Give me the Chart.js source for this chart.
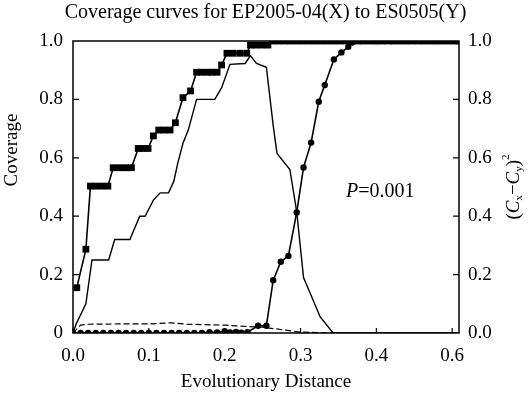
<!DOCTYPE html>
<html>
<head>
<meta charset="utf-8">
<script src="https://cdn.jsdelivr.net/npm/chart.js@4/dist/chart.umd.min.js"></script>
<style>
  html, body { margin: 0; padding: 0; background: #fff; }
  #wrap { width: 531px; height: 396px; }
</style>
</head>
<body>
<div id="wrap"><canvas id="graph_canva" width="531" height="396"></canvas></div>
<script>
// X-axis tick labels (the original figure labels the last tick "0.6")
var x_tick_values = [0.0, 0.1, 0.2, 0.3, 0.4, 0.5];
var x_tick_labels = ['0.0', '0.1', '0.2', '0.3', '0.4', '0.6'];
var y_left_labels = ['0', '0.2', '0.4', '0.6', '0.8', '1.0'];
var y_right_labels = ['0.0', '0.2', '0.4', '0.6', '0.8', '1.0'];

// Coverage Cx (squares)
var cx_x = [0.005, 0.017, 0.023, 0.030, 0.038, 0.046, 0.053, 0.061, 0.069, 0.077,
            0.086, 0.092, 0.099, 0.106, 0.113, 0.120, 0.128, 0.135, 0.145, 0.155,
            0.163, 0.170, 0.177, 0.183, 0.190, 0.196, 0.203, 0.211, 0.220, 0.229,
            0.234, 0.241, 0.249, 0.257, 0.263, 0.271, 0.279, 0.287, 0.295, 0.303,
            0.311, 0.319, 0.327, 0.335, 0.343, 0.351, 0.359, 0.367, 0.375, 0.383,
            0.391, 0.399, 0.407, 0.415, 0.423, 0.431, 0.439, 0.447, 0.455, 0.463,
            0.471, 0.479, 0.487, 0.495, 0.503, 0.509];
var cx_y = [0.155, 0.287, 0.503, 0.503, 0.503, 0.503, 0.566, 0.566, 0.566, 0.566,
            0.632, 0.632, 0.632, 0.675, 0.695, 0.695, 0.695, 0.720, 0.806, 0.829,
            0.893, 0.893, 0.893, 0.893, 0.893, 0.918, 0.958, 0.958, 0.958, 0.958,
            0.986, 0.986, 0.986, 0.986, 1.0, 1.0, 1.0, 1.0, 1.0, 1.0,
            1.0, 1.0, 1.0, 1.0, 1.0, 1.0, 1.0, 1.0, 1.0, 1.0,
            1.0, 1.0, 1.0, 1.0, 1.0, 1.0, 1.0, 1.0, 1.0, 1.0,
            1.0, 1.0, 1.0, 1.0, 1.0, 1.0];

// Coverage Cy (circles)
var cy_x = [0.000, 0.010, 0.020, 0.030, 0.040, 0.050, 0.060, 0.070, 0.080, 0.090,
            0.100, 0.110, 0.120, 0.130, 0.140, 0.150, 0.160, 0.170, 0.180, 0.190,
            0.200, 0.207, 0.215, 0.222, 0.230, 0.244, 0.255, 0.264, 0.274, 0.284,
            0.295, 0.304, 0.314, 0.324, 0.332, 0.344, 0.354, 0.363, 0.368, 0.380,
            0.400, 0.420, 0.440, 0.460, 0.480, 0.509];
var cy_y = [0, 0, 0, 0, 0, 0, 0, 0, 0, 0,
            0, 0, 0, 0, 0, 0, 0, 0, 0.003, 0.002,
            0.006, 0.002, 0.004, 0.001, 0.003, 0.025, 0.025, 0.181, 0.244, 0.264,
            0.413, 0.567, 0.652, 0.792, 0.849, 0.937, 0.961, 0.980, 0.995, 1.0,
            1.0, 1.0, 1.0, 1.0, 1.0, 1.0];

// (Cx - Cy)^2 (plain line)
var diff_x = [0.000, 0.004, 0.017, 0.025, 0.047, 0.055, 0.075, 0.088, 0.095, 0.106,
              0.115, 0.126, 0.133, 0.138, 0.145, 0.152, 0.163, 0.187, 0.196, 0.207,
              0.227, 0.234, 0.242, 0.255, 0.264, 0.269, 0.286, 0.295, 0.304, 0.326,
              0.343, 0.400, 0.509];
var diff_y = [0.0, 0.03, 0.10, 0.25, 0.25, 0.32, 0.32, 0.40, 0.40, 0.455,
              0.48, 0.48, 0.52, 0.58, 0.65, 0.695, 0.80, 0.80, 0.84, 0.92,
              0.923, 0.95, 0.923, 0.91, 0.71, 0.615, 0.56, 0.415, 0.19, 0.055,
              0.0, 0.0, 0.0];

// Dashed reference curve
var dash_x = [0.000, 0.010, 0.020, 0.060, 0.100, 0.130, 0.150, 0.200, 0.230, 0.250,
              0.300, 0.350, 0.509];
var dash_y = [0.0, 0.027, 0.030, 0.031, 0.031, 0.035, 0.030, 0.027, 0.022, 0.020,
              0.003, 0.0, 0.0];

function to_points(xs, ys) {
    var pts = [];
    for (var i = 0; i < xs.length; i++) { pts.push({ x: xs[i], y: ys[i] }); }
    return pts;
}

var SERIF = '"Liberation Serif", "DejaVu Serif", serif';

// Inward ticks, box frame, P annotation, axis titles drawn by hand
var extras = {
    id: 'extras',
    afterDraw: function (chart) {
        var ctx = chart.ctx;
        var a = chart.chartArea;
        var sx = chart.scales.x, yl = chart.scales.y, yr = chart.scales.y2;
        ctx.save();
        ctx.strokeStyle = '#000';
        ctx.lineWidth = 1.5;
        ctx.strokeRect(a.left, a.top, a.right - a.left, a.bottom - a.top);

        ctx.lineWidth = 1.2;
        ctx.beginPath();
        x_tick_values.forEach(function (v) {
            var px = sx.getPixelForValue(v);
            ctx.moveTo(px, a.bottom); ctx.lineTo(px, a.bottom - 5);
        });
        [0.2, 0.4, 0.6, 0.8].forEach(function (v) {
            var py = yl.getPixelForValue(v);
            ctx.moveTo(a.left, py); ctx.lineTo(a.left + 6, py);
            py = yr.getPixelForValue(v);
            ctx.moveTo(a.right, py); ctx.lineTo(a.right - 6, py);
        });
        ctx.stroke();

        // P=0.001
        ctx.fillStyle = '#000';
        ctx.textBaseline = 'middle';
        ctx.textAlign = 'left';
        ctx.font = 'italic 20px ' + SERIF;
        var tx = 346, ty = 192;
        ctx.fillText('P', tx, ty);
        tx += ctx.measureText('P').width;
        ctx.font = '20px ' + SERIF;
        ctx.fillText('=0.001', tx, ty);

        // left axis title
        ctx.save();
        ctx.translate(12, 150);
        ctx.rotate(-Math.PI / 2);
        ctx.textAlign = 'center';
        ctx.font = '19px ' + SERIF;
        ctx.fillText('Coverage', 0, 0);
        ctx.restore();

        // right axis title (Cx-Cy)^2
        ctx.translate(514, (a.top + a.bottom) / 2);
        ctx.rotate(-Math.PI / 2);
        var parts = [
            { t: '(', f: '19px ', dy: 0 },
            { t: 'C', f: 'italic 19px ', dy: 0 },
            { t: 'x', f: '11px ', dy: 5 },
            { t: '\u2212', f: '19px ', dy: 0 },
            { t: 'C', f: 'italic 19px ', dy: 0 },
            { t: 'y', f: '11px ', dy: 5 },
            { t: ')', f: '19px ', dy: 0 },
            { t: '2', f: '11px ', dy: -8 }
        ];
        var total = 0;
        parts.forEach(function (p) { ctx.font = p.f + SERIF; total += ctx.measureText(p.t).width; });
        var cx = -total / 2;
        parts.forEach(function (p) {
            ctx.font = p.f + SERIF;
            ctx.fillText(p.t, cx, p.dy);
            cx += ctx.measureText(p.t).width;
        });
        ctx.restore();
    }
};

function graph_draw() {
    var ctx = document.getElementById('graph_canva').getContext('2d');

    var data = {
        datasets: [{
            label: 'Cx',
            data: to_points(cx_x, cx_y),
            showLine: true,
            borderColor: '#000',
            backgroundColor: '#000',
            borderWidth: 1.6,
            pointStyle: 'rect',
            pointRadius: 4.8,
            pointBorderWidth: 0,
            yAxisID: 'y'
        }, {
            label: 'Cy',
            data: to_points(cy_x, cy_y),
            showLine: true,
            borderColor: '#000',
            backgroundColor: '#000',
            borderWidth: 1.6,
            pointStyle: 'circle',
            pointRadius: 3.2,
            pointBorderWidth: 0,
            yAxisID: 'y'
        }, {
            label: '(Cx-Cy)^2',
            data: to_points(diff_x, diff_y),
            showLine: true,
            borderColor: '#000',
            borderWidth: 1.4,
            pointRadius: 0,
            yAxisID: 'y2'
        }, {
            label: 'dashed',
            data: to_points(dash_x, dash_y),
            showLine: true,
            borderColor: '#000',
            borderWidth: 1.2,
            borderDash: [6, 3],
            pointRadius: 0,
            yAxisID: 'y2'
        }]
    };

    new Chart(ctx, {
        type: 'scatter',
        data: data,
        plugins: [extras],
        options: {
            responsive: false,
            animation: false,
            devicePixelRatio: 1,
            layout: { padding: 0 },
            plugins: {
                legend: { display: false },
                tooltip: { enabled: false },
                title: {
                    display: true,
                    text: 'Coverage curves for EP2005-04(X) to ES0505(Y)',
                    color: '#000',
                    font: { family: SERIF, size: 20, weight: 'normal', lineHeight: 1.2 },
                    padding: { top: 1, bottom: 16 }
                }
            },
            scales: {
                x: {
                    type: 'linear',
                    min: 0,
                    max: 0.509,
                    grid: { display: false, drawTicks: false },
                    border: { display: false },
                    afterBuildTicks: function (scale) {
                        scale.ticks = x_tick_values.map(function (v) { return { value: v }; });
                    },
                    afterFit: function (scale) { scale.height = 63; },
                    ticks: {
                        color: '#000',
                        padding: 12,
                        maxRotation: 0,
                        font: { family: SERIF, size: 19 },
                        callback: function (value, index) { return x_tick_labels[index]; }
                    },
                    title: {
                        display: true,
                        text: 'Evolutionary Distance',
                        color: '#000',
                        font: { family: SERIF, size: 19 },
                        padding: { top: 0, bottom: 3 }
                    }
                },
                y: {
                    position: 'left',
                    min: 0,
                    max: 1,
                    grid: { display: false, drawTicks: false },
                    border: { display: false },
                    afterFit: function (scale) { scale.width = 73; },
                    ticks: {
                        color: '#000',
                        padding: 10,
                        stepSize: 0.2,
                        font: { family: SERIF, size: 19 },
                        callback: function (value, index) { return y_left_labels[index]; }
                    }
                },
                y2: {
                    position: 'right',
                    min: 0,
                    max: 1,
                    grid: { display: false, drawTicks: false },
                    border: { display: false },
                    afterFit: function (scale) { scale.width = 72; },
                    ticks: {
                        color: '#000',
                        padding: 9,
                        stepSize: 0.2,
                        font: { family: SERIF, size: 19 },
                        callback: function (value, index) { return y_right_labels[index]; }
                    }
                }
            }
        }
    });
}

graph_draw();
</script>
</body>
</html>
